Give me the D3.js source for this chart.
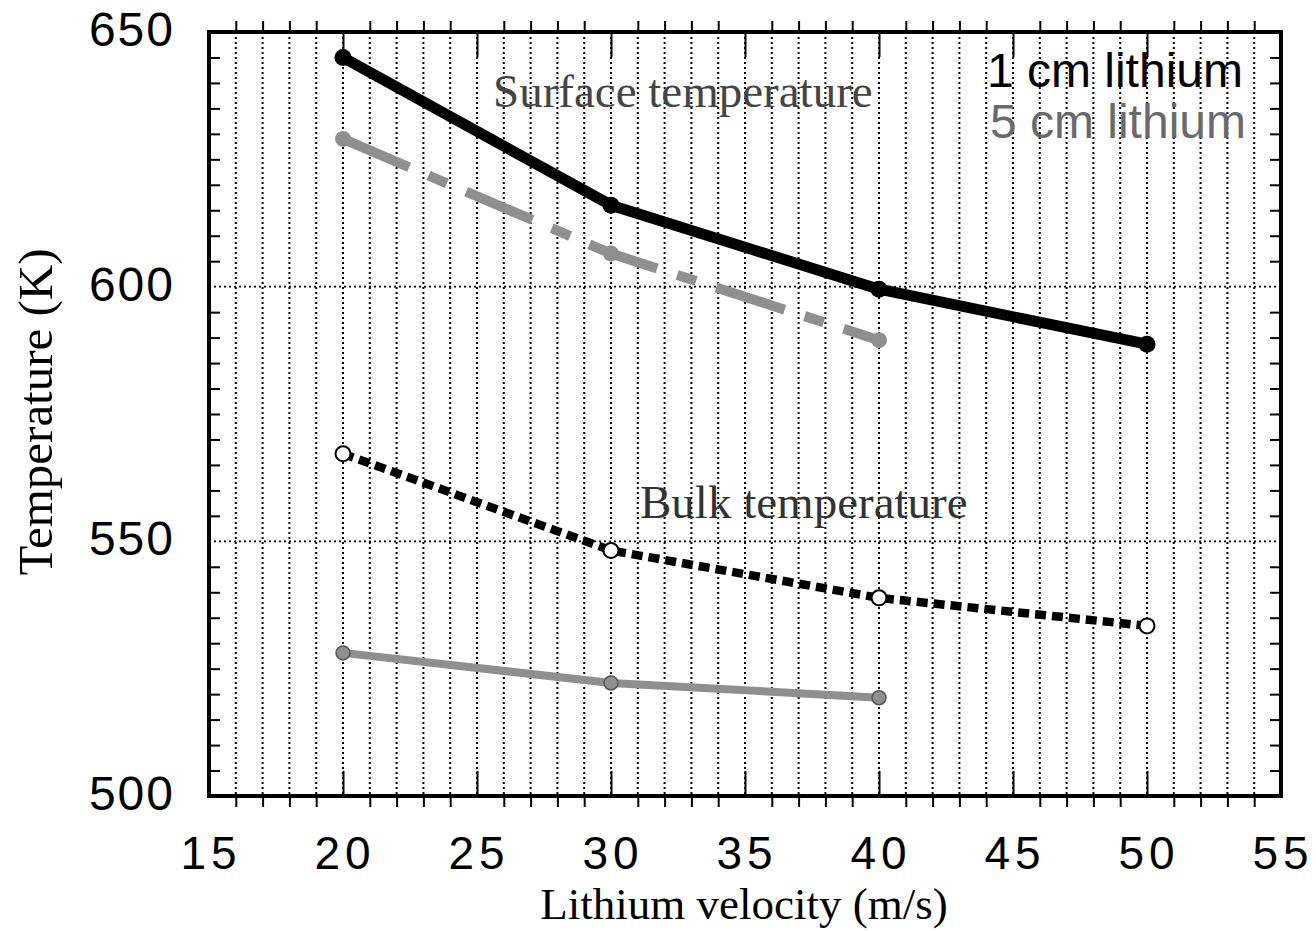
<!DOCTYPE html>
<html><head><meta charset="utf-8">
<script src="https://cdn.jsdelivr.net/npm/d3@7"></script>
<style>body{margin:0;background:#fff}</style>
</head><body>
<svg id="c" width="1316" height="931"></svg>
<script>
const velocity = [20, 30, 40, 50];
const surface1cm = [645, 616, 599.5, 588.7];
const surface5cm = [629, 606.5, 589.5];
const bulk1cm = [567.2, 548.2, 538.9, 533.4];
const bulk5cm = [528.1, 522.2, 519.3];
const xTicks = [15, 20, 25, 30, 35, 40, 45, 50, 55];
const yTicks = [500, 550, 600, 650];
const legendLabels = ["1 cm lithium", "5 cm lithium"];
const annotations = ["Surface temperature", "Bulk temperature"];

const svg = d3.select("#c");
const L = 209, R = 1281, T = 32, B = 796;
const x = d3.scaleLinear().domain([15, 55]).range([L, R]);
const y = d3.scaleLinear().domain([500, 650]).range([B, T]);
const GREY = "#8f8f8f";
const sans = "Liberation Sans, Arial, sans-serif";
const serif = "Liberation Serif, Times New Roman, serif";

// vertical dotted grid every 1 unit
const minorX = d3.range(16, 55, 1);
svg.append("g").selectAll("line").data(minorX).join("line")
  .attr("x1", d => x(d)).attr("x2", d => x(d)).attr("y1", T).attr("y2", B)
  .attr("stroke", "#000").attr("stroke-width", 2).attr("stroke-dasharray", "2,3");
// horizontal dotted grid
svg.append("g").selectAll("line").data([550, 600]).join("line")
  .attr("x1", L).attr("x2", R).attr("y1", d => y(d)).attr("y2", d => y(d))
  .attr("stroke", "#000").attr("stroke-width", 1.8).attr("stroke-dasharray", "2,3");

// axes with d3
const minorOnly = minorX.filter(d => d % 5 !== 0);
const majorIn = xTicks.filter(d => d > 15 && d < 55);
function styleAxis(g){ g.select(".domain").remove(); g.selectAll("line").attr("stroke","#000").attr("stroke-width",2); }
svg.append("g").attr("transform", `translate(0,${B})`)
  .call(d3.axisBottom(x).tickValues(minorOnly).tickSize(11).tickFormat("")).call(styleAxis);
svg.append("g").attr("transform", `translate(0,${B})`)
  .call(d3.axisTop(x).tickValues(majorIn).tickSize(25).tickFormat("")).call(styleAxis);
svg.append("g").attr("transform", `translate(0,${T})`)
  .call(d3.axisTop(x).tickValues(minorOnly).tickSize(11).tickFormat("")).call(styleAxis);
svg.append("g").attr("transform", `translate(0,${T})`)
  .call(d3.axisBottom(x).tickValues(majorIn).tickSize(25).tickFormat("")).call(styleAxis);
const minorY = d3.range(505, 650, 5).filter(d => d % 50 !== 0);
svg.append("g").attr("transform", `translate(${L},0)`)
  .call(d3.axisRight(y).tickValues(minorY).tickSize(11).tickFormat("")).call(styleAxis);
svg.append("g").attr("transform", `translate(${R},0)`)
  .call(d3.axisLeft(y).tickValues(minorY).tickSize(11).tickFormat("")).call(styleAxis);

// frame
svg.append("rect").attr("x", L).attr("y", T).attr("width", R - L).attr("height", B - T)
  .attr("fill", "none").attr("stroke", "#000").attr("stroke-width", 4);

// tick labels
svg.append("g").selectAll("text").data(xTicks).join("text")
  .attr("x", d => x(d) + 2).attr("y", 869).attr("text-anchor", "middle")
  .attr("font-family", sans).attr("font-size", 46).attr("letter-spacing", 5)
  .text(d => d);
svg.append("g").selectAll("text").data(yTicks).join("text")
  .attr("x", 175).attr("y", d => y(d) + 14).attr("text-anchor", "end")
  .attr("font-family", sans).attr("font-size", 48).attr("letter-spacing", 2)
  .text(d => d);

// axis titles
svg.append("text").attr("x", (535 + 953) / 2).attr("y", 919).attr("text-anchor", "middle")
  .attr("font-family", serif).attr("font-size", 45).text("Lithium velocity (m/s)");
svg.append("text").attr("transform", "translate(52,412) rotate(-90)").attr("text-anchor", "middle")
  .attr("font-family", serif).attr("font-size", 49).text("Temperature (K)");

// annotations
svg.append("text").attr("x", 493).attr("y", 107).attr("font-family", serif).attr("font-size", 47)
  .attr("fill", "#444").text(annotations[0]);
svg.append("text").attr("x", 640).attr("y", 518).attr("font-family", serif).attr("font-size", 47)
  .attr("fill", "#333").text(annotations[1]);

// legend
svg.append("text").attr("x", 1243).attr("y", 87).attr("text-anchor", "end")
  .attr("font-family", sans).attr("font-size", 48).attr("fill", "#000").text(legendLabels[0]);
svg.append("text").attr("x", 1246).attr("y", 138).attr("text-anchor", "end")
  .attr("font-family", sans).attr("font-size", 48).attr("fill", "#6a6a6a").text(legendLabels[1]);

const line = d3.line().x(d => x(d[0])).y(d => y(d[1]));
const pts = (vals) => vals.map((v, i) => [velocity[i], v]);

// 5 cm surface: grey dash-dot
svg.append("path").datum(pts(surface5cm)).attr("d", line)
  .attr("fill", "none").attr("stroke", GREY).attr("stroke-width", 10)
  .attr("stroke-dasharray", "72,21,20,21");
svg.append("g").selectAll("circle").data(pts(surface5cm)).join("circle")
  .attr("cx", d => x(d[0])).attr("cy", d => y(d[1])).attr("r", 8).attr("fill", GREY);

// 5 cm bulk: grey solid
svg.append("path").datum(pts(bulk5cm)).attr("d", line)
  .attr("fill", "none").attr("stroke", GREY).attr("stroke-width", 8);
svg.append("g").selectAll("circle").data(pts(bulk5cm)).join("circle")
  .attr("cx", d => x(d[0])).attr("cy", d => y(d[1])).attr("r", 7)
  .attr("fill", GREY).attr("stroke", "#555").attr("stroke-width", 1.5);

// 1 cm surface: black thick
svg.append("path").datum(pts(surface1cm)).attr("d", line)
  .attr("fill", "none").attr("stroke", "#000").attr("stroke-width", 11).attr("stroke-linejoin", "round");
svg.append("g").selectAll("circle").data(pts(surface1cm)).join("circle")
  .attr("cx", d => x(d[0])).attr("cy", d => y(d[1])).attr("r", 8.5).attr("fill", "#000");

// 1 cm bulk: black dashed, open circles
svg.append("path").datum(pts(bulk1cm)).attr("d", line)
  .attr("fill", "none").attr("stroke", "#000").attr("stroke-width", 8.5)
  .attr("stroke-dasharray", "11,6");
svg.append("g").selectAll("circle").data(pts(bulk1cm)).join("circle")
  .attr("cx", d => x(d[0])).attr("cy", d => y(d[1])).attr("r", 7.5)
  .attr("fill", "#fff").attr("stroke", "#000").attr("stroke-width", 2);
</script>
</body></html>
